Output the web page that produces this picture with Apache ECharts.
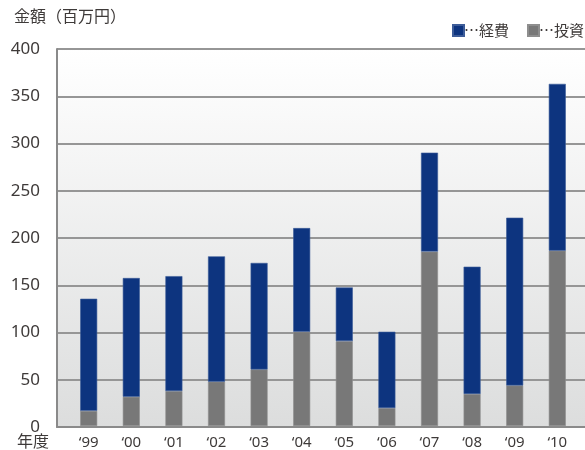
<!DOCTYPE html>
<html>
<head>
<meta charset="utf-8">
<script src="https://cdn.jsdelivr.net/npm/echarts@6/dist/echarts.min.js"></script>
<style>html,body{margin:0;padding:0;background:#fff}#c{width:585px;height:450px}</style>
</head>
<body>
<div id="c"></div>
<script>
var categories = ['‘99','‘00','‘01','‘02','‘03','‘04','‘05','‘06','‘07','‘08','‘09','‘10'];
var investment = [16, 31, 37, 47, 60, 100, 90, 19, 185, 34, 43, 186];
var expenses = [119, 126, 122, 133, 113, 110, 57, 81, 105, 135, 178, 177];
var yTicks = [0, 50, 100, 150, 200, 250, 300, 350, 400];

var FONT = "'Noto Sans','Noto Sans CJK JP',sans-serif";
var TXT = '#3e3a39';
var chart = echarts.init(document.getElementById('c'), null, {renderer: 'canvas'});
chart.setOption({
  animation: false,
  textStyle: {fontFamily: FONT},
  graphic: [
    {type: 'text', left: 14, top: 9, style: {text: '金額（百万円）', font: '16px ' + FONT, fill: TXT}},
    {type: 'text', left: 17, top: 434, style: {text: '年度', font: '16px ' + FONT, fill: TXT}}
  ],
  legend: [
    {data: ['経費'], left: 452, top: 23, itemWidth: 11, itemHeight: 11, itemGap: 0, padding: 0,
     icon: 'rect', formatter: function (n) { return '⋯' + n; },
     textStyle: {fontSize: 15, color: TXT, fontFamily: "'Noto Sans CJK JP',sans-serif", padding: [0,0,0,-5]}},
    {data: ['投資'], left: 527, top: 23, itemWidth: 11, itemHeight: 11, itemGap: 0, padding: 0,
     icon: 'rect', formatter: function (n) { return '⋯' + n; },
     textStyle: {fontSize: 15, color: TXT, fontFamily: "'Noto Sans CJK JP',sans-serif", padding: [0,0,0,-5]}}
  ],
  grid: [
    {left: 57, right: 0, top: 49, bottom: 23, show: true, borderWidth: 0,
     backgroundColor: {type: 'linear', x: 0, y: 0, x2: 0, y2: 1,
       colorStops: [{offset: 0, color: '#ffffff'}, {offset: 1, color: '#dcdddd'}]}},
    {left: 67.4, right: 6.4, top: 49, bottom: 23}
  ],
  xAxis: [
    {gridIndex: 0, type: 'value', min: 0, max: 1, axisLabel: {show: false}, axisTick: {show: false},
     splitLine: {show: false}, axisLine: {show: true, lineStyle: {color: '#8a8a8a', width: 2}}},
    {gridIndex: 1, type: 'category', data: categories, axisLine: {show: false}, axisTick: {show: false},
     axisLabel: {fontSize: 15, color: TXT, margin: 9, fontFamily: FONT}}
  ],
  yAxis: [
    {gridIndex: 0, type: 'value', min: 0, max: 400, interval: 50,
     axisLine: {show: true, lineStyle: {color: '#8a8a8a', width: 2}}, axisTick: {show: false},
     splitLine: {show: true, lineStyle: {color: '#969696', width: 2}},
     axisLabel: {fontSize: 17, color: TXT, margin: 17, padding: [0,0,10,0], fontFamily: FONT,
       formatter: function (v) { return yTicks.indexOf(v) >= 0 ? String(v) : ''; }}},
    {gridIndex: 1, type: 'value', min: 0, max: 400, show: false, splitLine: {show: false}}
  ],
  series: [
    {name: '投資', type: 'bar', stack: 't', xAxisIndex: 1, yAxisIndex: 1, data: investment,
     barWidth: 17, itemStyle: {color: '#787878', borderColor: '#8e8e8e', borderWidth: 0.6}},
    {name: '経費', type: 'bar', stack: 't', xAxisIndex: 1, yAxisIndex: 1, data: expenses,
     barWidth: 17, itemStyle: {color: '#0d347f', borderColor: '#3d5c98', borderWidth: 0.6}}
  ]
});
</script>
</body>
</html>
